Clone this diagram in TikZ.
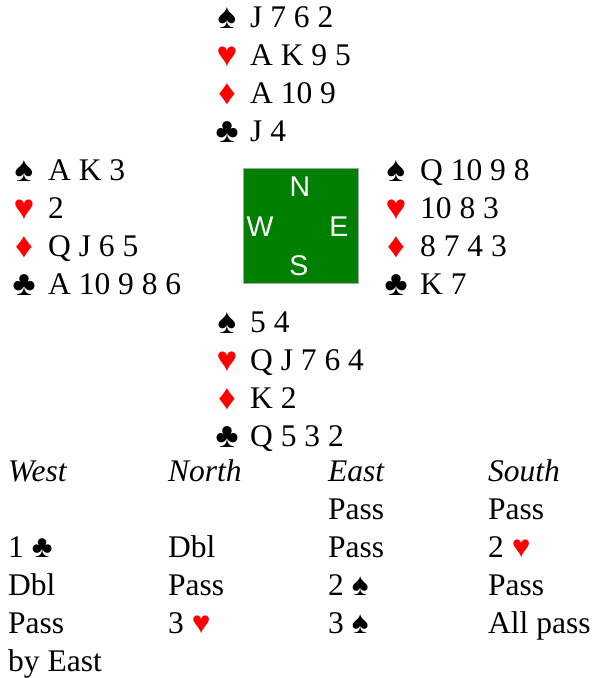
\documentclass[tikz,border=0pt]{standalone}
\usepackage{fontspec}
\setmainfont{Liberation Serif}
\newfontfamily\seatfont{Liberation Sans}
\usetikzlibrary{positioning}

\definecolor{felt}{HTML}{008000}
\definecolor{redsuit}{HTML}{FF0000}
\newcommand{\Sp}{♠}
\newcommand{\Hs}{\textcolor{redsuit}{♥}}
\newcommand{\Ds}{\textcolor{redsuit}{♦}}
\newcommand{\Cs}{♣}

\tikzset{
  txt/.style={anchor=base west, inner sep=0pt, font=\fontsize{31.5}{38}\selectfont},
  pip/.style={anchor=base, inner sep=0pt, font=\fontsize{35}{40}\selectfont},
  seat/.style={inner sep=0pt, text=white, font=\seatfont\fontsize{28.5}{32}\selectfont},
}

\begin{document}
\begin{tikzpicture}[x=1pt, y=-1pt]
  \useasboundingbox (0,0) rectangle (594,678);

  % north
  \draw (227,28) node[pip] (Ns) {\Sp};
  \draw (250,27) node[txt] (NS) {J 7 6 2};
  \draw (227,66) node[pip] (Nh) {\Hs};
  \draw (250,65) node[txt] (NH) {A K 9 5};
  \draw (227,104) node[pip] (Nd) {\Ds};
  \draw (250,103) node[txt] (ND) {A 10 9};
  \draw (227,142) node[pip] (Nc) {\Cs};
  \draw (250,141) node[txt] (NC) {J 4};

  % west
  \draw (24,181) node[pip] (Ws) {\Sp};
  \draw (48,180) node[txt] (WS) {A K 3};
  \draw (24,219) node[pip] (Wh) {\Hs};
  \draw (48,218) node[txt] (WH) {2};
  \draw (24,257) node[pip] (Wd) {\Ds};
  \draw (48,256) node[txt] (WD) {Q J 6 5};
  \draw (24,295) node[pip] (Wc) {\Cs};
  \draw (48,294) node[txt] (WC) {A 10 9 8 6};

  % east
  \draw (396,181) node[pip] (Es) {\Sp};
  \draw (420,180) node[txt] (ES) {Q 10 9 8};
  \draw (396,219) node[pip] (Eh) {\Hs};
  \draw (420,218) node[txt] (EH) {10 8 3};
  \draw (396,257) node[pip] (Ed) {\Ds};
  \draw (420,256) node[txt] (ED) {8 7 4 3};
  \draw (396,295) node[pip] (Ec) {\Cs};
  \draw (420,294) node[txt] (EC) {K 7};

  % south
  \draw (227,333) node[pip] (Ss) {\Sp};
  \draw (250,332) node[txt] (SS) {5 4};
  \draw (227,371) node[pip] (Sh) {\Hs};
  \draw (250,370) node[txt] (SH) {Q J 7 6 4};
  \draw (227,409) node[pip] (Sd) {\Ds};
  \draw (250,408) node[txt] (SD) {K 2};
  \draw (227,447) node[pip] (Sc) {\Cs};
  \draw (250,446) node[txt] (SC) {Q 5 3 2};

  % table
  \draw (300.5,226) node[draw=gray!70, fill=felt, minimum size=115pt, inner sep=0pt] (table) {};
  \draw (300,187) node[seat] (seatN) {N};
  \draw (260,227) node[seat] (seatW) {W};
  \draw (339,227) node[seat] (seatE) {E};
  \draw (299,266) node[seat] (seatS) {S};

  % auction
  \draw (8,481) node[txt] (hW) {\itshape West};
  \draw (168,481) node[txt] (hN) {\itshape North};
  \draw (328,481) node[txt] (hE) {\itshape East};
  \draw (488,481) node[txt] (hS) {\itshape South};

  \draw (328,519) node[txt] (b1E) {Pass};
  \draw (488,519) node[txt] (b1S) {Pass};

  \draw (8,557) node[txt] (b2W) {1 \Cs};
  \draw (168,557) node[txt] (b2N) {Dbl};
  \draw (328,557) node[txt] (b2E) {Pass};
  \draw (488,557) node[txt] (b2S) {2 \Hs};

  \draw (8,595) node[txt] (b3W) {Dbl};
  \draw (168,595) node[txt] (b3N) {Pass};
  \draw (328,595) node[txt] (b3E) {2 \Sp};
  \draw (488,595) node[txt] (b3S) {Pass};

  \draw (8,633) node[txt] (b4W) {Pass};
  \draw (168,633) node[txt] (b4N) {3 \Hs};
  \draw (328,633) node[txt] (b4E) {3 \Sp};
  \draw (488,633) node[txt] (b4S) {All pass};

  \draw (8,671) node[txt] (lead) {by East};
\end{tikzpicture}
\end{document}
